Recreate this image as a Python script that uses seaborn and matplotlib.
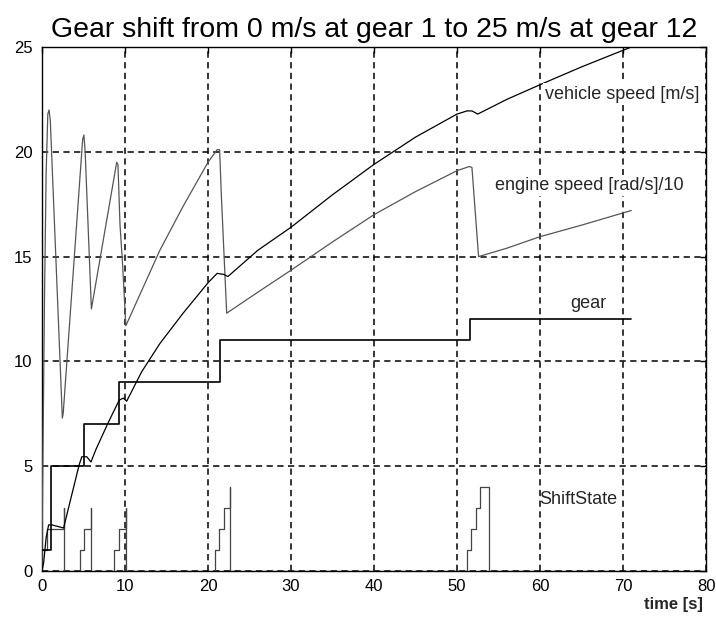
import numpy as np
import pandas as pd
import matplotlib
matplotlib.use("Agg")
import matplotlib.pyplot as plt
import seaborn as sns

# ---------------- data ----------------
veh_t = [0, 0.2, 0.5, 0.8, 1.2, 2.6, 3.5, 4.5, 4.8, 5.4, 5.9, 6.5, 8.0, 9.3, 9.8, 10.2,
         12.0, 14.2, 17.0, 20.0, 21.1, 21.9, 22.4, 26.0, 30.0, 35.0, 40.0, 45.0, 50.0,
         51.2, 51.8, 52.5, 56.0, 60.0, 65.0, 71.0]
veh_v = [0, 0.4, 1.6, 2.2, 2.2, 2.05, 3.5, 5.1, 5.45, 5.45, 5.2, 5.8, 7.1, 8.15, 8.25, 8.1,
         9.5, 10.85, 12.3, 13.75, 14.2, 14.15, 14.05, 15.3, 16.4, 17.95, 19.4, 20.7, 21.8,
         21.95, 21.95, 21.8, 22.5, 23.2, 24.05, 25.0]

eng_t = [0, 0.05, 0.3, 0.5, 0.7, 0.85, 1.0, 2.45, 2.55, 4.9, 5.05, 5.2, 5.95, 9.0, 9.15,
         9.4, 9.7, 10.1, 14.2, 17.0, 20.0, 21.1, 21.4, 21.6, 22.25, 26.0, 30.0, 35.0,
         40.0, 45.0, 50.0, 51.5, 51.8, 52.6, 56.0, 60.0, 65.0, 71.0]
eng_v = [0, 3.0, 13.0, 19.0, 21.8, 22.0, 21.5, 7.3, 7.5, 20.6, 20.8, 20.0, 12.5, 19.5, 19.4,
         16.5, 14.7, 11.7, 15.3, 17.4, 19.5, 20.1, 20.1, 18.0, 12.3, 13.3, 14.35, 15.7,
         17.0, 18.1, 19.1, 19.3, 19.25, 15.0, 15.4, 15.95, 16.5, 17.2]

gear_t = [0, 1.1, 5.1, 9.3, 21.4, 51.6, 71.0]
gear_v = [1, 5, 7, 9, 11, 12, 12]

shift_t = [0, 0.6, 2.6, 2.6, 4.6, 5.0, 5.9, 5.9, 8.7, 9.3, 10.1, 10.1,
           20.9, 21.3, 21.9, 22.6, 22.7, 51.2, 51.7, 52.3, 52.8, 53.9, 71.0]
shift_v = [1, 2, 3, 0, 1, 2, 3, 0, 1, 2, 3, 0,
           1, 2, 3, 4, 0, 1, 2, 3, 4, 0, 0]

x_ticks = [0, 10, 20, 30, 40, 50, 60, 70, 80]
y_ticks = [0, 5, 10, 15, 20, 25]

title = "Gear shift from 0 m/s at gear 1 to 25 m/s at gear 12"
labels = {"vehicle": "vehicle speed [m/s]", "engine": "engine speed [rad/s]/10",
          "gear": "gear", "shift": "ShiftState"}

# ---------------- style ----------------
sns.set_style("white")
plt.rcParams["font.family"] = ["Liberation Sans", "DejaVu Sans"]
plt.rcParams["lines.scale_dashes"] = False

fig = plt.figure(figsize=(7.16, 6.29), dpi=100)
ax = fig.add_axes([42 / 716, 1 - 571 / 629, 664 / 716, 524 / 629])

veh = pd.DataFrame({"t": veh_t, "v": veh_v})
eng = pd.DataFrame({"t": eng_t, "v": eng_v})
gear = pd.DataFrame({"t": gear_t, "v": gear_v})
shift = pd.DataFrame({"t": shift_t, "v": shift_v})

sns.lineplot(data=eng, x="t", y="v", ax=ax, estimator=None, sort=False,
             color="#555555", lw=0.9, zorder=3)
sns.lineplot(data=veh, x="t", y="v", ax=ax, estimator=None, sort=False,
             color="black", lw=0.9, zorder=4)
sns.lineplot(data=gear, x="t", y="v", ax=ax, estimator=None, sort=False,
             color="black", lw=1.2, drawstyle="steps-post", zorder=4)
sns.lineplot(data=shift, x="t", y="v", ax=ax, estimator=None, sort=False,
             color="#444444", lw=0.9, drawstyle="steps-post", zorder=3)

ax.set_xlim(0, 80)
ax.set_ylim(0, 25)
ax.set_xticks(x_ticks)
ax.set_yticks(y_ticks)
ax.set_xlabel("")
ax.set_ylabel("")
ax.grid(True, color="black", lw=1.1, linestyle=(0, (4.5, 3.2)))
ax.set_axisbelow(True)
for s in ax.spines.values():
    s.set_color("black")
    s.set_linewidth(1.0)
    s.set_visible(True)
ax.tick_params(axis="both", direction="in", length=4.5, width=1.0, colors="black",
               labelsize=12, top=True, right=True)
ax.tick_params(axis="x", pad=6)
ax.tick_params(axis="y", pad=7)

ax.set_title(title, fontsize=20.5, pad=7, color="black")

bb = dict(facecolor="white", edgecolor="none", pad=1.5)
ax.text(60.6, 22.75, labels["vehicle"], fontsize=13, ha="left", va="center", bbox=bb, zorder=5)
ax.text(54.6, 18.4, labels["engine"], fontsize=13, ha="left", va="center", bbox=bb, zorder=5)
ax.text(63.6, 12.75, labels["gear"], fontsize=13, ha="left", va="center", zorder=5)
ax.text(59.9, 3.4, labels["shift"], fontsize=13, ha="left", va="center", zorder=5)

fig.text(703 / 716, 1 - 605 / 629, "time [s]", fontsize=12, fontweight="bold",
         ha="right", va="center")

fig.savefig("out.png", dpi=100)
